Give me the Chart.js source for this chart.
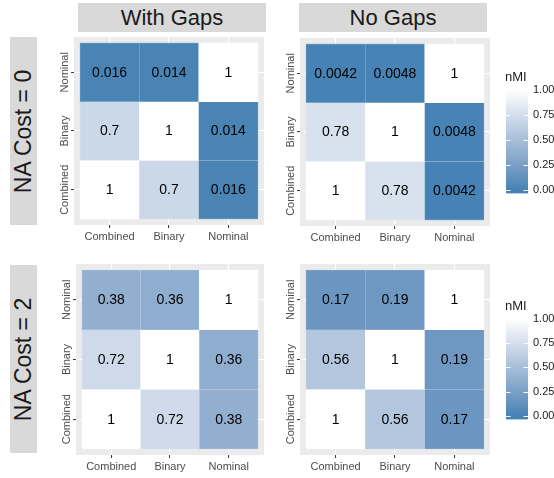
<!DOCTYPE html>
<html><head><meta charset="utf-8">
<script src="https://cdn.jsdelivr.net/npm/chart.js@4/dist/chart.umd.min.js"></script>
<style>
html,body{margin:0;padding:0;background:#fff;}
body{width:554px;height:478px;position:relative;overflow:hidden;font-family:"Liberation Sans",Arial,Helvetica,sans-serif;}
.strip{position:absolute;background:#D9D9D9;color:#1A1A1A;font-size:22px;display:flex;align-items:center;justify-content:center;white-space:nowrap;}
.vstrip span{display:block;transform:rotate(-90deg);font-size:23px;}
canvas{position:absolute;}
</style></head><body>
<div class="strip" id="s1" style="left:78px;top:3px;width:188px;height:29px"></div>
<div class="strip" id="s2" style="left:299px;top:3px;width:188px;height:29px"></div>
<div class="strip vstrip" style="left:10px;top:37px;width:27px;height:188px"><span id="r1"></span></div>
<div class="strip vstrip" style="left:10px;top:265px;width:27px;height:188px"><span id="r2"></span></div>
<canvas id="h1" style="left:54px;top:37px" width="210" height="206"></canvas>
<canvas id="h2" style="left:280px;top:38px" width="210" height="206"></canvas>
<canvas id="h3" style="left:56px;top:264px" width="208" height="209"></canvas>
<canvas id="h4" style="left:280px;top:264px" width="210" height="209"></canvas>
<canvas id="l1" style="left:506px;top:65px" width="48" height="140"></canvas>
<canvas id="l2" style="left:506px;top:294px" width="48" height="137"></canvas>
<script>
// ---- data ----
const categories = ['Combined', 'Binary', 'Nominal'];
const panelTitles = ['With Gaps', 'No Gaps'];
const rowTitles = ['NA Cost = 0', 'NA Cost = 2'];
// rows from bottom (Combined) to top (Nominal); columns Combined, Binary, Nominal
const withGapsCost0 = [[1, 0.7, 0.016], [0.7, 1, 0.014], [0.016, 0.014, 1]];
const noGapsCost0   = [[1, 0.78, 0.0042], [0.78, 1, 0.0048], [0.0042, 0.0048, 1]];
const withGapsCost2 = [[1, 0.72, 0.38], [0.72, 1, 0.36], [0.38, 0.36, 1]];
const noGapsCost2   = [[1, 0.56, 0.17], [0.56, 1, 0.19], [0.17, 0.19, 1]];
const legendTitle = 'nMI';
const legendBreaks = [0, 0.25, 0.5, 0.75, 1];

document.getElementById('s1').textContent = panelTitles[0];
document.getElementById('s2').textContent = panelTitles[1];
document.getElementById('r1').textContent = rowTitles[0];
document.getElementById('r2').textContent = rowTitles[1];

const FONT = '"Liberation Sans", Arial, Helvetica, sans-serif';

// ---- colour scale (steelblue -> white, Lab interpolation) ----
function s2l(c){c/=255;return c<=0.04045?c/12.92:Math.pow((c+0.055)/1.055,2.4);}
function l2s(c){const v=c<=0.0031308?12.92*c:1.055*Math.pow(c,1/2.4)-0.055;return Math.round(Math.max(0,Math.min(1,v))*255);}
const Xn=0.95047,Yn=1,Zn=1.08883,EPS=216/24389,KAP=24389/27;
function ff(t){return t>EPS?Math.cbrt(t):(KAP*t+16)/116;}
function fi(t){const t3=t*t*t;return t3>EPS?t3:(116*t-16)/KAP;}
function rgb2lab(c){const r=s2l(c[0]),g=s2l(c[1]),b=s2l(c[2]);
  const X=0.4124564*r+0.3575761*g+0.1804375*b,Y=0.2126729*r+0.7151522*g+0.0721750*b,Z=0.0193339*r+0.1191920*g+0.9503041*b;
  const fx=ff(X/Xn),fy=ff(Y/Yn),fz=ff(Z/Zn);return [116*fy-16,500*(fx-fy),200*(fy-fz)];}
function lab2rgb(l){const fy=(l[0]+16)/116,fx=fy+l[1]/500,fz=fy-l[2]/200;
  const X=Xn*fi(fx),Y=Yn*fi(fy),Z=Zn*fi(fz);
  return [l2s(3.2404542*X-1.5371385*Y-0.4985314*Z),l2s(-0.9692660*X+1.8760108*Y+0.0415560*Z),l2s(0.0556434*X-0.2040259*Y+1.0572252*Z)];}
const LOW=rgb2lab([70,130,180]), HIGH=rgb2lab([255,255,255]);
function colorArr(v){v=Math.max(0,Math.min(1,v));return lab2rgb([0,1,2].map(i=>LOW[i]+(HIGH[i]-LOW[i])*v));}
function colorFor(v,mix){const c=colorArr(v);const m=mix||0;return 'rgb('+c.map(x=>Math.round(x+(255-x)*m)).join(',')+')';}

// ---- plugins ----
const panelBg = {id:'panelBg', beforeDraw(chart){const a=chart.chartArea,ctx=chart.ctx;ctx.save();ctx.fillStyle='#EBEBEB';ctx.fillRect(a.left,a.top,a.right-a.left,a.bottom-a.top);ctx.restore();}};
const tileText = {id:'tileText', afterDatasetsDraw(chart){
  const ctx=chart.ctx, meta=chart.getDatasetMeta(0), vals=chart.data.datasets[0].vals;
  ctx.save();ctx.fillStyle='#000';ctx.font='14px '+FONT;ctx.textAlign='center';ctx.textBaseline='middle';
  meta.data.forEach((el,i)=>{ctx.fillText(String(vals[i]), el.x, (el.y+el.base)/2+0.5);});
  // rotated y-axis labels
  const ys=chart.scales.y, a=chart.chartArea;
  ctx.fillStyle='#4D4D4D';ctx.font='11px '+FONT;
  categories.forEach((c,i)=>{ctx.save();ctx.translate(a.left-9.5, ys.getPixelForValue(i+1));ctx.rotate(-Math.PI/2);ctx.fillText(c,0,0);ctx.restore();});
  ctx.restore();
}};
const ticks123 = s => { s.ticks = [1,2,3].map(v=>({value:v})); };

function heat(id, matrix){
  const pts=[], vals=[], bg=[], bc=[];
  matrix.forEach((row,r)=>row.forEach((v,c)=>{pts.push({x:c+1,y:[r+0.5,r+1.5]});vals.push(v);bg.push(colorFor(v));bc.push(colorFor(v,0.35));}));
  const gridOpt={color:'#FFFFFF',lineWidth:1.1,tickColor:'#333333',tickLength:3,tickWidth:1,offset:false,drawOnChartArea:true};
  new Chart(document.getElementById(id),{
    type:'bar',
    data:{datasets:[{data:pts,vals:vals,backgroundColor:bg,borderColor:bc,borderWidth:0.6,borderSkipped:false,barPercentage:1,categoryPercentage:1}]},
    options:{responsive:false,animation:false,events:[],layout:{padding:0},
      plugins:{legend:{display:false},tooltip:{enabled:false},title:{display:false}},
      scales:{
        x:{type:'linear',min:0.4,max:3.6,offset:false,afterBuildTicks:ticks123,
           ticks:{callback:v=>categories[v-1],color:'#4D4D4D',font:{size:11,family:FONT},padding:2,maxRotation:0,minRotation:0,autoSkip:false},
           grid:gridOpt,border:{display:false},afterFit:s=>{s.height=18;}},
        y:{type:'linear',min:0.4,max:3.6,beginAtZero:false,afterBuildTicks:ticks123,
           ticks:{display:false},grid:gridOpt,border:{display:false},afterFit:s=>{s.width=20;}}
      }},
    plugins:[panelBg,tileText]
  });
}
heat('h1', withGapsCost0);
heat('h2', noGapsCost0);
heat('h3', withGapsCost2);
heat('h4', noGapsCost2);

// ---- colour bar legends ----
const legendDeco = {id:'legendDeco', afterDatasetsDraw(chart){
  const ctx=chart.ctx,a=chart.chartArea,ys=chart.scales.y;
  ctx.save();ctx.strokeStyle='#FFFFFF';ctx.lineWidth=1;
  legendBreaks.forEach(b=>{const y=Math.round(ys.getPixelForValue(b))+0.5;
    ctx.beginPath();ctx.moveTo(a.left,y);ctx.lineTo(a.left+4.5,y);ctx.moveTo(a.right-4.5,y);ctx.lineTo(a.right,y);ctx.stroke();});
  ctx.fillStyle='#1A1A1A';ctx.font='13px '+FONT;ctx.textAlign='left';ctx.textBaseline='alphabetic';
  ctx.fillText(legendTitle,a.left-1,a.top-5);
  ctx.restore();
}};
function legendChart(id){
  const lo=-0.035, hi=1.04;
  new Chart(document.getElementById(id),{
    type:'bar',
    data:{labels:[''],datasets:[{data:[[lo,hi]],barPercentage:1,categoryPercentage:1,borderWidth:0,
      backgroundColor:(c)=>{const ch=c.chart,a=ch.chartArea;if(!a)return 'rgba(0,0,0,0)';const ys=ch.scales.y;
        const g=ch.ctx.createLinearGradient(0,ys.getPixelForValue(0),0,ys.getPixelForValue(1));
        for(let i=0;i<=20;i++){g.addColorStop(i/20,colorFor(i/20));}return g;}}]},
    options:{responsive:false,animation:false,events:[],layout:{padding:{top:21,bottom:8,left:0,right:0}},
      plugins:{legend:{display:false},tooltip:{enabled:false}},
      scales:{
        x:{display:false,offset:true},
        y:{position:'right',min:lo,max:hi,beginAtZero:false,afterBuildTicks:s=>{s.ticks=legendBreaks.map(v=>({value:v}));},
           ticks:{callback:v=>v.toFixed(2),color:'#1A1A1A',font:{size:11,family:FONT},padding:5},
           grid:{display:false,drawTicks:false},border:{display:false},afterFit:s=>{s.width=26;}}
      }},
    plugins:[legendDeco]
  });
}
legendChart('l1');
legendChart('l2');
</script>
</body></html>
